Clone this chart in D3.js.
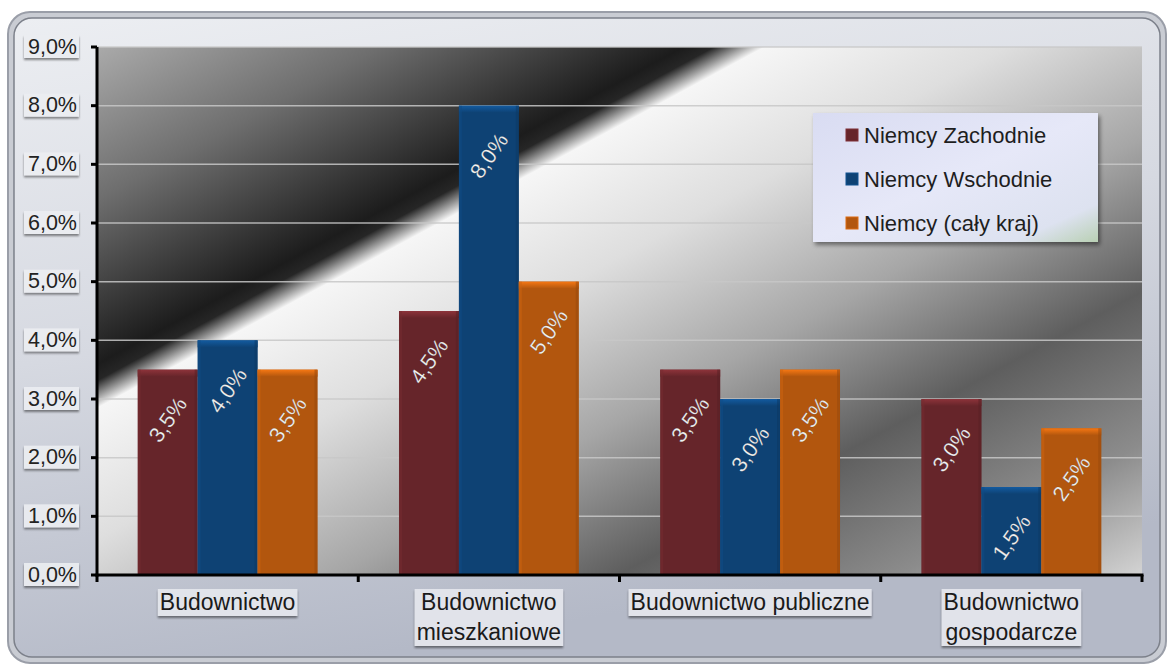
<!DOCTYPE html>
<html><head><meta charset="utf-8">
<script src="https://cdn.jsdelivr.net/npm/d3@7"></script>
<style>html,body{margin:0;padding:0;background:#fff;}svg{display:block;}</style>
</head><body>
<svg id="chart" width="1172" height="668"></svg>
<script>
const categories = ["Budownictwo", "Budownictwo mieszkaniowe", "Budownictwo publiczne", "Budownictwo gospodarcze"];
const categoryLines = [["Budownictwo"], ["Budownictwo", "mieszkaniowe"], ["Budownictwo publiczne"], ["Budownictwo", "gospodarcze"]];
const seriesNames = ["Niemcy Zachodnie", "Niemcy Wschodnie", "Niemcy (cały kraj)"];
const west = [3.5, 4.5, 3.5, 3.0];
const east = [4.0, 8.0, 3.0, 1.5];
const total = [3.5, 5.0, 3.5, 2.5];
const yTicks = [0, 1, 2, 3, 4, 5, 6, 7, 8, 9];
const colors = ["#66252a", "#0e4274", "#b2560e"];
const seriesValues = [west, east, total];

const svg = d3.select("#chart");
const defs = svg.append("defs");
const fmt = v => v.toFixed(1).replace(".", ",") + "%";
const font = "Liberation Sans, Arial, sans-serif";

// frame gradient
const fg = defs.append("linearGradient").attr("id", "frameG").attr("x1", 0).attr("y1", 0).attr("x2", 0.3).attr("y2", 1);
fg.append("stop").attr("offset", 0).attr("stop-color", "#eceef2");
fg.append("stop").attr("offset", 0.5).attr("stop-color", "#d6d9e1");
fg.append("stop").attr("offset", 1).attr("stop-color", "#b4b9c7");

// plot background gradient
const pg = defs.append("linearGradient").attr("id", "plotG").attr("gradientUnits", "userSpaceOnUse")
  .attr("x1", 97).attr("y1", 47).attr("x2", 97 + 0.476 * 962).attr("y2", 47 + 0.88 * 962);
[[0, "#aaaaaa"], [0.14, "#6e6e6e"], [0.29, "#1c1c1c"], [0.305, "#262626"], [0.33, "#f6f6f6"], [0.45, "#dedede"],
 [0.6, "#a6a6a6"], [0.74, "#5e5e5e"], [0.88, "#8c8c8c"], [1, "#d4d4d4"]]
  .forEach(([o, c]) => pg.append("stop").attr("offset", o).attr("stop-color", c));

const lg = defs.append("linearGradient").attr("id", "legG").attr("x1", 0).attr("y1", 0).attr("x2", 1).attr("y2", 1);
lg.append("stop").attr("offset", 0).attr("stop-color", "#d9dcf2");
lg.append("stop").attr("offset", 0.5).attr("stop-color", "#e6e8f8");
lg.append("stop").attr("offset", 0.85).attr("stop-color", "#dde2f0");
lg.append("stop").attr("offset", 1).attr("stop-color", "#b9d0b4");

const sh = defs.append("filter").attr("id", "shadow").attr("x", "-20%").attr("y", "-20%").attr("width", "150%").attr("height", "160%");
sh.append("feDropShadow").attr("dx", 2).attr("dy", 3).attr("stdDeviation", 2).attr("flood-color", "#000").attr("flood-opacity", 0.45);
const tsh = defs.append("filter").attr("id", "tshadow").attr("x", "-20%").attr("y", "-30%").attr("width", "140%").attr("height", "170%");
tsh.append("feDropShadow").attr("dx", 0).attr("dy", 2).attr("stdDeviation", 1.2).attr("flood-color", "#000").attr("flood-opacity", 0.5);

colors.forEach((c, i) => {
  const g = defs.append("linearGradient").attr("id", "barTop" + i).attr("x1", 0).attr("y1", 0).attr("x2", 0).attr("y2", 1);
  g.append("stop").attr("offset", 0).attr("stop-color", d3.color(c).brighter(0.9));
  g.append("stop").attr("offset", 1).attr("stop-color", c);
});

// frame
svg.append("rect").attr("x", 8).attr("y", 12).attr("width", 1158).attr("height", 651).attr("rx", 22)
  .attr("fill", "#c9ccd3").attr("stroke", "#9a9ea8").attr("stroke-width", 2);
svg.append("rect").attr("x", 14).attr("y", 18).attr("width", 1146).attr("height", 639).attr("rx", 18)
  .attr("fill", "url(#frameG)").attr("stroke", "#7c808a").attr("stroke-width", 1.5);

const pLeft = 97, pRight = 1142, pTop = 47, pBottom = 575;
const x0 = d3.scaleBand().domain(categories).range([pLeft, pRight]).paddingInner(0).paddingOuter(0);
const x1 = d3.scaleBand().domain(seriesNames).range([0, x0.bandwidth()]).paddingInner(0).paddingOuter(0.68);
const y = d3.scaleLinear().domain([0, 9]).range([pBottom, pTop]);

svg.append("rect").attr("x", pLeft).attr("y", pTop).attr("width", pRight - pLeft).attr("height", pBottom - pTop).attr("fill", "url(#plotG)");

// gridlines
svg.append("g").selectAll("line").data(yTicks.filter(t => t > 0)).join("line")
  .attr("x1", pLeft).attr("x2", pRight).attr("y1", d => y(d)).attr("y2", d => y(d))
  .attr("stroke", "#c8c8c8").attr("stroke-width", 1.5).attr("opacity", 0.85);

// bars
const gBars = svg.append("g");
categories.forEach((cat, ci) => {
  seriesNames.forEach((s, si) => {
    const v = seriesValues[si][ci];
    const bx = x0(cat) + x1(s), bw = x1.bandwidth(), by = y(v), bh = y(0) - y(v);
    gBars.append("rect").attr("x", bx).attr("y", by).attr("width", bw).attr("height", bh).attr("fill", colors[si]);
    gBars.append("rect").attr("x", bx).attr("y", by).attr("width", bw).attr("height", 7).attr("fill", "url(#barTop" + si + ")");
    gBars.append("rect").attr("x", bx).attr("y", by).attr("width", 3).attr("height", bh).attr("fill", d3.color(colors[si]).brighter(0.4)).attr("opacity", 0.5);
    gBars.append("rect").attr("x", bx + bw - 3).attr("y", by).attr("width", 3).attr("height", bh).attr("fill", d3.color(colors[si]).darker(0.5)).attr("opacity", 0.5);
    const cx = bx + bw / 2, cy = by + 50;
    gBars.append("text").attr("transform", `translate(${cx},${cy}) rotate(-55)`)
      .attr("text-anchor", "middle").attr("dy", "0.35em")
      .attr("font-family", font).attr("font-size", 21.5)
      .attr("fill", "#f2f2f2").attr("stroke", "rgba(0,0,0,0.25)").attr("stroke-width", 0.6)
      .text(fmt(v));
  });
});

// axes
const axes = svg.append("g").attr("stroke", "#000");
axes.append("line").attr("x1", pLeft).attr("x2", pLeft).attr("y1", pTop).attr("y2", pBottom + 1.5).attr("stroke-width", 3);
axes.append("line").attr("x1", pLeft - 1.5).attr("x2", pRight + 1.5).attr("y1", pBottom).attr("y2", pBottom).attr("stroke-width", 3);
axes.selectAll(".yt").data(yTicks).join("line").attr("class", "yt")
  .attr("x1", pLeft - 6).attr("x2", pLeft).attr("y1", d => y(d)).attr("y2", d => y(d)).attr("stroke-width", 3);
const bounds = categories.map(c => x0(c)).concat([x0(categories[categories.length - 1]) + x0.bandwidth()]);
axes.selectAll(".xt").data(bounds).join("line").attr("class", "xt")
  .attr("x1", d => d).attr("x2", d => d).attr("y1", pBottom).attr("y2", pBottom + 7).attr("stroke-width", 3);

// y labels
const yl = svg.append("g");
yTicks.forEach(t => {
  const g = yl.append("g");
  g.append("rect").attr("x", 24).attr("y", y(t) - 12).attr("width", 55).attr("height", 23)
    .attr("fill", "#eceef2").attr("filter", "url(#tshadow)").attr("opacity", 0.9);
  g.append("text").attr("x", 77).attr("y", y(t) - 1).attr("dy", "0.35em").attr("text-anchor", "end")
    .attr("font-family", font).attr("font-size", 21.5).attr("fill", "#222").text(fmt(t));
});

// x labels
const xl = svg.append("g");
categories.forEach((c, i) => {
  const cx = x0(c) + x0.bandwidth() / 2;
  const lines = categoryLines[i];
  const g = xl.append("g");
  const txt = g.append("text").attr("text-anchor", "middle").attr("font-family", font).attr("font-size", 23).attr("fill", "#1a1a1a");
  lines.forEach((l, li) => txt.append("tspan").attr("x", cx).attr("y", 610 + li * 30).text(l));
  const bb = txt.node().getBBox();
  g.insert("rect", "text").attr("x", bb.x - 2).attr("y", bb.y).attr("width", bb.width + 4).attr("height", bb.height + 1)
    .attr("fill", "#e6e8ee").attr("filter", "url(#tshadow)").attr("opacity", 0.9);
});

// legend
const leg = svg.append("g");
leg.append("rect").attr("x", 813).attr("y", 113).attr("width", 285).attr("height", 129)
  .attr("fill", "url(#legG)").attr("filter", "url(#shadow)");
seriesNames.forEach((s, i) => {
  const cy = 135 + i * 44;
  leg.append("rect").attr("x", 846).attr("y", cy - 6).attr("width", 12).attr("height", 12).attr("fill", colors[i])
    .attr("stroke", d3.color(colors[i]).brighter(0.6)).attr("stroke-width", 1);
  leg.append("text").attr("x", 864).attr("y", cy).attr("dy", "0.35em").attr("font-family", font).attr("font-size", 22)
    .attr("fill", "#1e1e1e").text(s);
});
</script>
</body></html>
